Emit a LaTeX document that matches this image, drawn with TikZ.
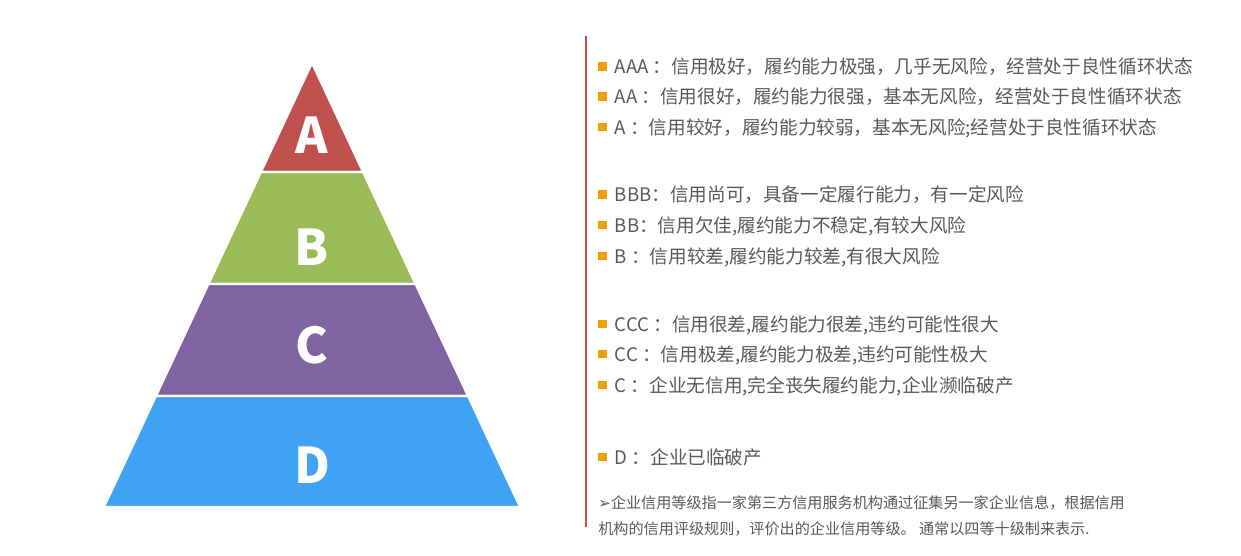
\documentclass[tikz,border=0pt]{standalone}
\usepackage{fontspec}
\setmainfont{Noto Sans CJK SC}
\newfontfamily\symfont{DejaVu Sans}
\definecolor{levela}{RGB}{192, 80, 77}
\definecolor{levelb}{RGB}{155, 187, 89}
\definecolor{levelc}{RGB}{128, 100, 162}
\definecolor{leveld}{RGB}{65, 163, 245}
\definecolor{bullet}{RGB}{240, 160, 0}
\definecolor{textgray}{RGB}{89, 89, 89}
\tikzset{
  band/.style={draw=white, line width=1.2pt},
  grade/.style={text=white, font=\fontsize{28}{30}\selectfont\bfseries},
  item/.style={anchor=west, text=textgray, font=\fontsize{10.6}{13}\selectfont, inner sep=0pt},
  note/.style={anchor=north west, text=textgray, font=\fontsize{8.6}{15}\selectfont, inner sep=0pt, align=left}
}
\newcommand{\rating}[3]{%
  \node[item] (#1) at (11.96, -#2) {\textcolor{bullet}{\raisebox{0.3ex}{\rule{1.7mm}{1.7mm}}}\hspace{1.6mm}#3};}
\begin{document}
\begin{tikzpicture}
\useasboundingbox (0,0) rectangle (24.82,-11.1);
% pyramid
\filldraw [band, fill=levela] (6.24,-1.26) -- (7.26,-3.44) -- (5.22,-3.44) -- cycle;
\filldraw [band, fill=levelb] (5.22,-3.44) -- (7.26,-3.44) -- (8.31,-5.68) -- (4.17,-5.68) -- cycle;
\filldraw [band, fill=levelc] (4.17,-5.68) -- (8.31,-5.68) -- (9.36,-7.92) -- (3.12,-7.92) -- cycle;
\filldraw [band, fill=leveld] (3.12,-7.92) -- (9.36,-7.92) -- (10.40,-10.14) -- (2.08,-10.14) -- cycle;
\node[grade] (ga) at (6.24,-2.70) {A};
\node[grade] (gb) at (6.24,-4.94) {B};
\node[grade] (gc) at (6.24,-6.90) {C};
\node[grade] (gd) at (6.24,-9.30) {D};
% divider
\coordinate (top) at (11.72,-0.72);
\coordinate (bottom) at (11.72,-10.54);
\draw [levela, line width=0.8pt] (top) -- (bottom);
% ratings
\rating{aaa}{1.34}{AAA ：信用极好，履约能力极强，几乎无风险，经营处于良性循环状态}
\rating{aa}{1.94}{AA ：信用很好，履约能力很强，基本无风险，经营处于良性循环状态}
\rating{a}{2.56}{A ：信用较好，履约能力较弱，基本无风险;经营处于良性循环状态}
\rating{bbb}{3.90}{BBB：信用尚可，具备一定履行能力，有一定风险}
\rating{bb}{4.52}{BB：信用欠佳,履约能力不稳定,有较大风险}
\rating{b}{5.14}{B ：信用较差,履约能力较差,有很大风险}
\rating{ccc}{6.50}{CCC ：信用很差,履约能力很差,违约可能性很大}
\rating{cc}{7.10}{CC ：信用极差,履约能力极差,违约可能性极大}
\rating{c}{7.72}{C ：企业无信用,完全丧失履约能力,企业濒临破产}
\rating{d}{9.14}{D ：企业已临破产}
\node[note] (remark) at (11.96,-9.90) {{\symfont ➢}企业信用等级指一家第三方信用服务机构通过征集另一家企业信息，根据信用\\机构的信用评级规则，评价出的企业信用等级。 通常以四等十级制来表示.};
\end{tikzpicture}
\end{document}
